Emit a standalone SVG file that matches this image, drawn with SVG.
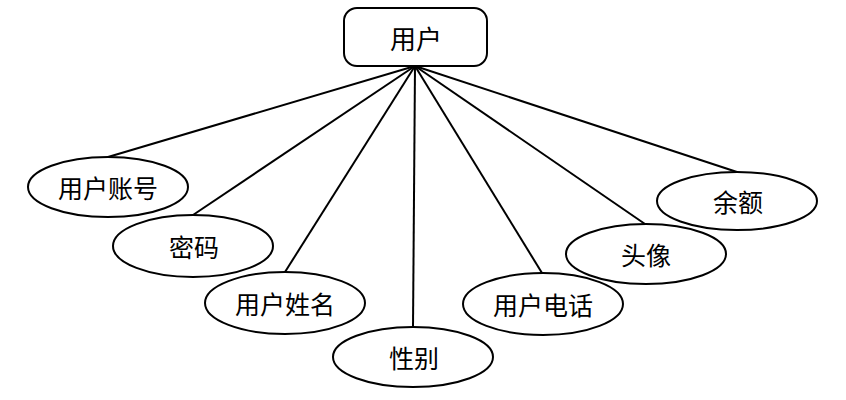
<svg xmlns="http://www.w3.org/2000/svg" width="846" height="400" viewBox="0 0 846 400">
<style>
.node{fill:#ffffff;stroke:#000000;stroke-width:2}
.lbl{font-family:"Noto Sans CJK SC","Noto Sans",sans-serif;font-size:25px;fill:#000000;text-anchor:middle;dominant-baseline:central}
.conn{stroke:#000000;stroke-width:2;fill:none}
</style>
<rect width="846" height="400" fill="#ffffff"/>
<g id="connectors">
<line class="conn" x1="415" y1="66" x2="108" y2="157"/>
<line class="conn" x1="415" y1="66" x2="193" y2="215"/>
<line class="conn" x1="415" y1="66" x2="285" y2="272"/>
<line class="conn" x1="415" y1="66" x2="413" y2="327"/>
<line class="conn" x1="415" y1="66" x2="542" y2="273"/>
<line class="conn" x1="415" y1="66" x2="645" y2="224"/>
<line class="conn" x1="415" y1="66" x2="737" y2="172"/>
</g>
<g id="user">
<rect class="node" x="344" y="8" width="143" height="58" rx="13"/>
<text class="lbl" x="416" y="37" style="font-size:26px">用户</text>
</g>
<g id="account">
<ellipse class="node" cx="108" cy="187" rx="80" ry="30"/>
<text class="lbl" x="108" y="187">用户账号</text>
</g>
<g id="password">
<ellipse class="node" cx="193" cy="246" rx="80" ry="31"/>
<text class="lbl" x="194" y="246">密码</text>
</g>
<g id="name">
<ellipse class="node" cx="285" cy="303" rx="80" ry="31"/>
<text class="lbl" x="285" y="303">用户姓名</text>
</g>
<g id="gender">
<ellipse class="node" cx="413" cy="357" rx="80" ry="30"/>
<text class="lbl" x="414" y="357">性别</text>
</g>
<g id="phone">
<ellipse class="node" cx="543" cy="304" rx="80" ry="31"/>
<text class="lbl" x="543" y="304">用户电话</text>
</g>
<g id="avatar">
<ellipse class="node" cx="646" cy="254" rx="80" ry="30"/>
<text class="lbl" x="646" y="254">头像</text>
</g>
<g id="balance">
<ellipse class="node" cx="737" cy="201" rx="80" ry="29"/>
<text class="lbl" x="738" y="201">余额</text>
</g>
</svg>
